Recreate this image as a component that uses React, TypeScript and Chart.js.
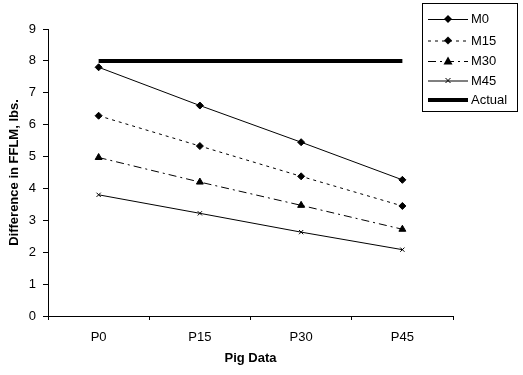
import React, { useEffect, useRef } from "react";
import { Chart, registerables } from "chart.js";

Chart.register(...registerables);

const categories = ["P0", "P15", "P30", "P45"];
const m0 = [7.8, 6.6, 5.45, 4.27];
const m15 = [6.28, 5.33, 4.38, 3.45];
const m30 = [4.97, 4.2, 3.47, 2.72];
const m45 = [3.8, 3.22, 2.63, 2.08];
const actual = [8, 8, 8, 8];
const yTicks = [0, 1, 2, 3, 4, 5, 6, 7, 8, 9];

const FONT = "'Liberation Sans', Arial, sans-serif";

type LegendItem = {
  label: string;
  dash: number[];
  width: number;
  marker: string | null;
};

const legendItems: LegendItem[] = [
  { label: "M0", dash: [], width: 1, marker: "diamond" },
  { label: "M15", dash: [3, 4], width: 1, marker: "diamond" },
  { label: "M30", dash: [8, 4, 2, 4], width: 1, marker: "triangle" },
  { label: "M45", dash: [], width: 1, marker: "cross" },
  { label: "Actual", dash: [], width: 4, marker: null },
];

function drawMarker(ctx: CanvasRenderingContext2D, kind: string, x: number, y: number) {
  ctx.save();
  ctx.fillStyle = "#000";
  ctx.strokeStyle = "#000";
  ctx.setLineDash([]);
  ctx.lineWidth = 1;
  if (kind === "diamond") {
    const r = 4;
    ctx.beginPath();
    ctx.moveTo(x, y - r);
    ctx.lineTo(x + r, y);
    ctx.lineTo(x, y + r);
    ctx.lineTo(x - r, y);
    ctx.closePath();
    ctx.fill();
  } else if (kind === "triangle") {
    const r = 4.5;
    ctx.beginPath();
    ctx.moveTo(x, y - r);
    ctx.lineTo(x + r, y + r * 0.8);
    ctx.lineTo(x - r, y + r * 0.8);
    ctx.closePath();
    ctx.fill();
  } else if (kind === "cross") {
    const r = 2.5;
    ctx.beginPath();
    ctx.moveTo(x - r, y - r);
    ctx.lineTo(x + r, y + r);
    ctx.moveTo(x + r, y - r);
    ctx.lineTo(x - r, y + r);
    ctx.stroke();
  }
  ctx.restore();
}

const legendPlugin = {
  id: "customLegend",
  afterDraw(chart: any) {
    const ctx: CanvasRenderingContext2D = chart.ctx;
    ctx.save();
    const bx = 422.5, by = 3.5, bw = 95, bh = 108;
    ctx.fillStyle = "#fff";
    ctx.fillRect(bx, by, bw, bh);
    ctx.strokeStyle = "#000";
    ctx.lineWidth = 1;
    ctx.strokeRect(bx, by, bw, bh);
    const ys = [19, 40.5, 61, 80.5, 100];
    legendItems.forEach((it, i) => {
      const y = ys[i];
      ctx.save();
      ctx.strokeStyle = "#000";
      ctx.lineWidth = it.width;
      ctx.setLineDash(it.dash);
      ctx.beginPath();
      const off = it.width % 2 === 1 ? 0.5 : 0;
      ctx.moveTo(428, y + off);
      ctx.lineTo(468, y + off);
      ctx.stroke();
      ctx.restore();
      if (it.marker) drawMarker(ctx, it.marker, 448, y);
      ctx.fillStyle = "#000";
      ctx.font = `13px ${FONT}`;
      ctx.textBaseline = "middle";
      ctx.textAlign = "left";
      ctx.fillText(it.label, 471, y + 0.5);
    });
    ctx.restore();
  },
};

const bgPlugin = {
  id: "bg",
  beforeDraw(chart: any) {
    const ctx = chart.ctx;
    ctx.save();
    ctx.fillStyle = "#fff";
    ctx.fillRect(0, 0, chart.width, chart.height);
    ctx.restore();
  },
};

function makeDataset(label: string, data: number[], dash: number[], style: any, radius: number, width = 1) {
  return {
    label,
    data,
    borderColor: "#000",
    backgroundColor: "#000",
    borderWidth: width,
    borderDash: dash,
    pointStyle: style,
    pointRadius: radius,
    pointBorderColor: "#000",
    pointBackgroundColor: "#000",
    pointBorderWidth: 1,
    tension: 0,
    fill: false,
  };
}

export default function App() {
  const ref = useRef<HTMLCanvasElement | null>(null);
  useEffect(() => {
    if (!ref.current) return;
    const chart = new Chart(ref.current, {
      type: "line",
      data: {
        labels: categories,
        datasets: [
          makeDataset("Actual", actual, [], false, 0, 4),
          makeDataset("M0", m0, [], "rectRot", 3.5),
          makeDataset("M15", m15, [3, 4], "rectRot", 3.5),
          makeDataset("M30", m30, [8, 4, 2, 4], "triangle", 4),
          makeDataset("M45", m45, [], "crossRot", 3),
        ],
      },
      options: {
        animation: false,
        responsive: false,
        maintainAspectRatio: false,
        layout: { padding: { left: 0, top: 29, right: 70, bottom: 0 } },
        plugins: {
          legend: { display: false },
          tooltip: { enabled: false },
        },
        scales: {
          x: {
            type: "category",
            offset: true,
            grid: {
              offset: true,
              drawOnChartArea: false,
              drawTicks: true,
              tickLength: 4,
              color: "#000",
            },
            border: { display: true, color: "#000", width: 1 },
            ticks: {
              color: "#000",
              font: { family: FONT, size: 13 },
              padding: 10,
              maxRotation: 0,
            },
            title: {
              display: true,
              text: "Pig Data",
              color: "#000",
              font: { family: FONT, size: 13, weight: "bold" },
              padding: { top: 0, bottom: 9 },
            },
            afterFit(scale: any) {
              scale.height = 59;
            },
          },
          y: {
            min: 0,
            max: 9,
            afterBuildTicks(scale: any) {
              scale.ticks = yTicks.map((v) => ({ value: v }));
            },
            grid: {
              drawOnChartArea: false,
              drawTicks: true,
              tickLength: 5,
              color: "#000",
            },
            border: { display: true, color: "#000", width: 1 },
            ticks: {
              color: "#000",
              font: { family: FONT, size: 13 },
              padding: 7,
            },
            title: {
              display: true,
              text: "Difference in FFLM, lbs.",
              color: "#000",
              font: { family: FONT, size: 13, weight: "bold" },
              padding: { top: 7, bottom: 0 },
            },
            afterFit(scale: any) {
              scale.width = 48;
            },
          },
        },
      },
      plugins: [bgPlugin, legendPlugin],
    });
    return () => chart.destroy();
  }, []);
  return (
    <div style={{ position: "fixed", left: 0, top: 0, width: 523, height: 375 }}>
      <canvas ref={ref} width={523} height={375} style={{ display: "block", width: 523, height: 375 }} />
    </div>
  );
}
